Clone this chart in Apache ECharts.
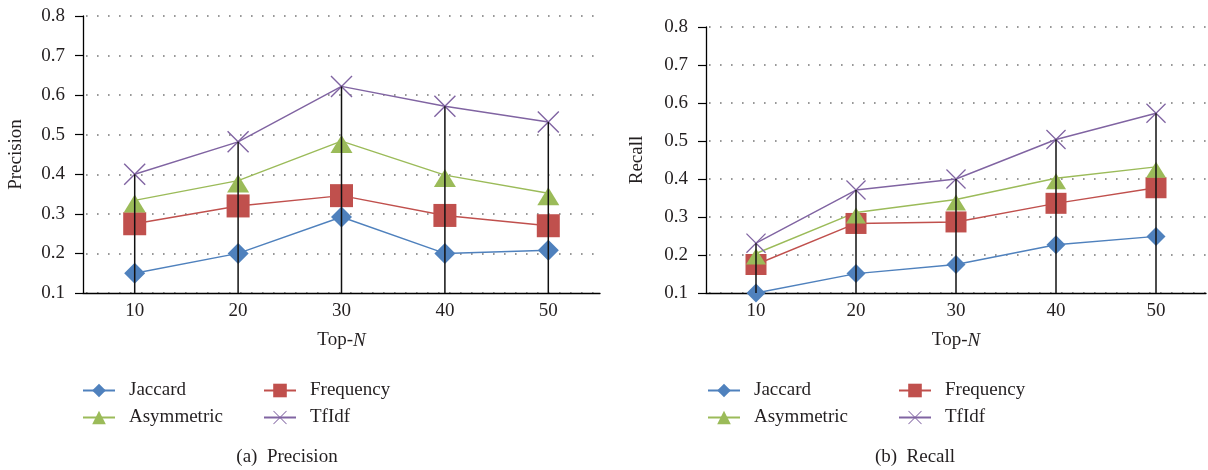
<!DOCTYPE html>
<html>
<head>
<meta charset="utf-8">
<script src="https://cdn.jsdelivr.net/npm/echarts@6/dist/echarts.min.js"></script>
<style>
    html, body { margin: 0; padding: 0; background: #fff; }
    #chart { width: 1208px; height: 470px; }
</style>
</head>
<body>
<div id="chart"></div>
<script>
let topN = ['10', '20', '30', '40', '50']
let yTicks = [0.1, 0.8, 0.1]  // min, max, step

// (a) Precision
let precJaccard = [0.15, 0.2, 0.292, 0.2, 0.208]
let precFrequency = [0.275, 0.32, 0.346, 0.296, 0.27]
let precAsymmetric = [0.334, 0.384, 0.484, 0.398, 0.352]
let precTfIdf = [0.4, 0.482, 0.622, 0.572, 0.532]

// (b) Recall
let recJaccard = [0.1, 0.151, 0.175, 0.227, 0.249]
let recFrequency = [0.175, 0.283, 0.287, 0.336, 0.377]
let recAsymmetric = [0.204, 0.312, 0.346, 0.402, 0.432]
let recTfIdf = [0.231, 0.371, 0.4, 0.504, 0.573]

const FONT = 'Liberation Serif'
const FS = 19
const INK = '#231f20'
const COLORS = {
    Jaccard: '#4f81bd',
    Frequency: '#c0504d',
    Asymmetric: '#9bbb59',
    TfIdf: '#8064a2'
}
const CROSS = 'path://M0,0.45L0.45,0L10,9.55L9.55,10Z M9.55,0L10,0.45L0.45,10L0,9.55Z'

function lineSeries(name, data, grid, symbol, size, offset) {
    return {
        name: name,
        type: 'line',
        xAxisIndex: grid,
        yAxisIndex: grid,
        data: data,
        symbol: symbol,
        symbolSize: size,
        symbolOffset: offset || [0, 0],
        showAllSymbol: true,
        z: 2,
        itemStyle: { color: COLORS[name] },
        lineStyle: { color: COLORS[name], width: 1.4 },
        emphasis: { disabled: true }
    }
}

// black drop line from the axis up to the highest mark of each category
function dropLines(grid, groups) {
    let tops = topN.map((_, i) => Math.max(...groups.map(g => g[i])))
    return {
        type: 'bar',
        xAxisIndex: grid,
        yAxisIndex: grid,
        data: tops,
        barWidth: 1.5,
        clip: true,
        silent: true,
        z: 5,
        itemStyle: { color: '#111' }
    }
}

function chartSeries(grid, jac, freq, asym, tfidf, big) {
    let s = big ? 1 : 0.91
    return [
        lineSeries('Jaccard', jac, grid, 'diamond', Math.round(21 * s)),
        lineSeries('Frequency', freq, grid, 'rect', Math.round(23 * s)),
        lineSeries('Asymmetric', asym, grid, 'triangle', [Math.round(22 * s), Math.round(18 * s)], [0, 3]),
        lineSeries('TfIdf', tfidf, grid, CROSS, Math.round(22 * s)),
        dropLines(grid, [jac, freq, asym, tfidf])
    ]
}

function xAxis(grid) {
    return {
        type: 'category',
        gridIndex: grid,
        data: topN,
        boundaryGap: true,
        axisLine: { onZero: false, lineStyle: { color: '#000', width: 1.3 } },
        axisTick: { show: false },
        axisLabel: { margin: 9, fontFamily: FONT, fontSize: FS, color: INK },
        name: 'Top-{i|N}',
        nameLocation: 'middle',
        nameGap: 38,
        nameTextStyle: {
            fontFamily: FONT, fontSize: FS, color: INK,
            rich: { i: { fontFamily: FONT, fontSize: FS, fontStyle: 'italic', color: INK } }
        }
    }
}

function yAxis(grid, name, gap) {
    return {
        type: 'value',
        gridIndex: grid,
        min: yTicks[0],
        max: yTicks[1],
        interval: yTicks[2],
        axisLine: { show: true, lineStyle: { color: '#000', width: 1.3 } },
        axisTick: { show: true, length: 8, lineStyle: { color: '#000', width: 1.2 } },
        axisLabel: {
            margin: 18, fontFamily: FONT, fontSize: FS, color: INK,
            formatter: v => v.toFixed(1)
        },
        splitLine: {
            show: true,
            lineStyle: { color: '#777', width: 1.6, type: [1.6, 9.4], dashOffset: 8 }
        },
        name: name,
        nameLocation: 'middle',
        nameGap: gap,
        nameTextStyle: { fontFamily: FONT, fontSize: FS, color: INK }
    }
}

function legendCol(left, names) {
    return {
        orient: 'vertical',
        left: left,
        top: 381,
        padding: 0,
        itemWidth: 32,
        itemHeight: 17,
        itemGap: 8,
        selectedMode: false,
        data: names,
        textStyle: { fontFamily: FONT, fontSize: FS, color: INK, padding: [0, 0, 0, 9] }
    }
}

function caption(text, x) {
    return {
        text: text,
        left: x,
        top: 448,
        padding: 0,
        textAlign: 'center',
        textStyle: { fontFamily: FONT, fontSize: FS, fontWeight: 'normal', color: INK }
    }
}

let chartDom = document.getElementById('chart')
let myChart = echarts.init(chartDom, null, { renderer: 'canvas' })

let option = {
    animation: false,
    backgroundColor: '#fff',
    title: [caption('(a)  Precision', 287), caption('(b)  Recall', 915)],
    legend: [
        legendCol(82, ['Jaccard', 'Asymmetric']),
        legendCol(263, ['Frequency', 'TfIdf']),
        legendCol(707, ['Jaccard', 'Asymmetric']),
        legendCol(898, ['Frequency', 'TfIdf'])
    ],
    grid: [
        { left: 83, top: 16, width: 517, height: 277 },
        { left: 706, top: 27, width: 500, height: 266 }
    ],
    xAxis: [xAxis(0), xAxis(1)],
    yAxis: [yAxis(0, 'Precision', 57), yAxis(1, 'Recall', 59)],
    series: [
        ...chartSeries(0, precJaccard, precFrequency, precAsymmetric, precTfIdf, true),
        ...chartSeries(1, recJaccard, recFrequency, recAsymmetric, recTfIdf, false)
    ]
}

option && myChart.setOption(option)
</script>
</body>
</html>
